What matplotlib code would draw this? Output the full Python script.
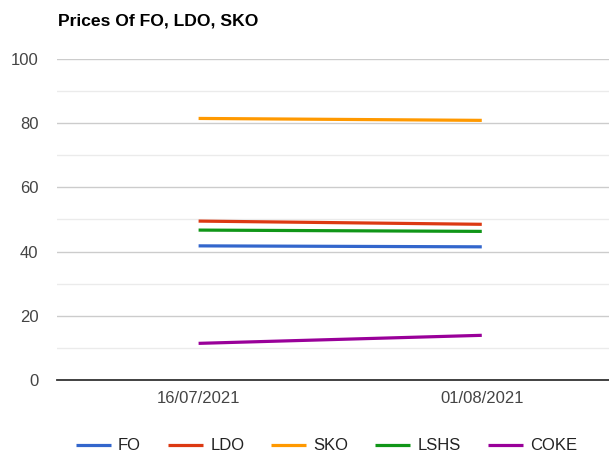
import numpy as np
import matplotlib
matplotlib.use('Agg')
import matplotlib.pyplot as plt

plt.rcParams['font.family'] = ['Liberation Sans', 'DejaVu Sans']

dates = ['16/07/2021', '01/08/2021']
fo = [41.8, 41.5]
ldo = [49.5, 48.5]
sko = [81.4, 80.8]
lshs = [46.7, 46.3]
coke = [11.5, 14.0]

series = [('FO', fo, '#3366cc'), ('LDO', ldo, '#dc3912'), ('SKO', sko, '#ff9900'),
          ('LSHS', lshs, '#109618'), ('COKE', coke, '#990099')]

fig = plt.figure(figsize=(6.09, 4.65), dpi=100)
ax = fig.add_axes([0.0936, 0.182, 0.930, 0.692])

x = np.arange(len(dates))
for name, vals, col in series:
    ax.plot(x, vals, color=col, lw=2.3, label=name, solid_capstyle='butt', zorder=3)

ax.set_xlim(-0.5, 1.5)
ax.set_ylim(0, 100)
ax.set_yticks(np.arange(0, 101, 20))
ax.set_yticks(np.arange(10, 100, 20), minor=True)
ax.set_xticks(x)
ax.set_xticklabels(dates)
ax.grid(axis='y', which='major', color='#cccccc', lw=1)
ax.grid(axis='y', which='minor', color='#ebebeb', lw=1)
ax.set_axisbelow(True)
for s in ['top', 'right', 'left']:
    ax.spines[s].set_visible(False)
ax.spines['bottom'].set_color('#333333')
ax.spines['bottom'].set_linewidth(1.3)
ax.tick_params(axis='y', which='both', length=0, pad=13.5, labelsize=12, labelcolor='#444444')
ax.tick_params(axis='x', length=0, pad=8, labelsize=12, labelcolor='#444444')

fig.text(58 / 609, 1 - 20.5 / 465, 'Prices Of FO, LDO, SKO', fontsize=12.6, fontweight='bold',
         ha='left', va='center', color='#000000')

fig.legend(loc='center', bbox_to_anchor=(0.536, 0.041), ncol=5, frameon=False,
           fontsize=12, handlelength=2.1, handletextpad=0.45, columnspacing=1.6,
           labelcolor='#222222')

fig.savefig('out.png', dpi=100)
